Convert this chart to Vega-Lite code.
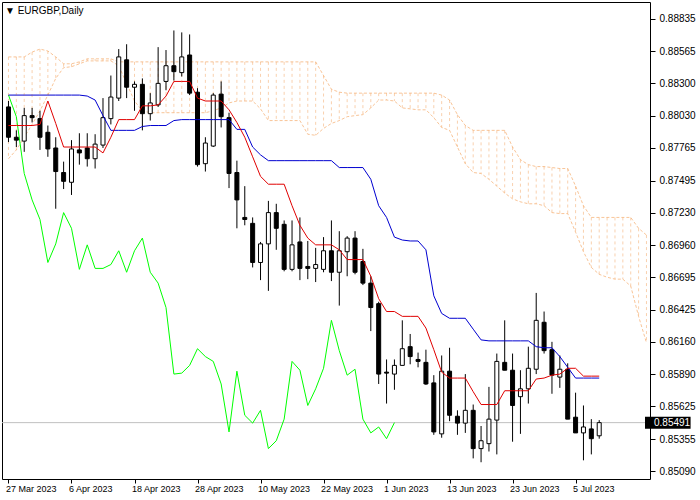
{
  "$schema": "https://vega.github.io/schema/vega-lite/v6.json",
  "width": 648,
  "height": 477,
  "autosize": {"type": "none"},
  "padding": {"left": 2, "top": 2, "right": 50, "bottom": 21},
  "background": "white",
  "config": {
    "view": {"stroke": "black", "strokeWidth": 1},
    "font": "Liberation Sans",
    "axis": {"labelOverlap": false, "labelFlush": false, "labelBound": false}
  },
  "title": {"text": "▼ EURGBP,Daily", "anchor": "start", "frame": "group", "orient": "top", "offset": -14, "dx": 3, "font": "Liberation Sans", "fontSize": 10, "fontWeight": "normal", "color": "black"},
  "datasets": {
    "bars": [
      {"i":0,"date":"2023-03-27","open":0.88105,"high":0.88154,"low":0.87814,"close":0.87854},
      {"i":1,"date":"2023-03-28","open":0.87854,"high":0.87911,"low":0.87773,"close":0.87830},
      {"i":2,"date":"2023-03-29","open":0.87822,"high":0.88097,"low":0.87733,"close":0.88033},
      {"i":3,"date":"2023-03-30","open":0.88033,"high":0.88097,"low":0.87976,"close":0.88016},
      {"i":4,"date":"2023-03-31","open":0.88008,"high":0.88073,"low":0.87749,"close":0.87854},
      {"i":5,"date":"2023-04-03","open":0.87895,"high":0.87951,"low":0.87692,"close":0.87757},
      {"i":6,"date":"2023-04-04","open":0.87765,"high":0.87854,"low":0.87262,"close":0.87570},
      {"i":7,"date":"2023-04-05","open":0.87562,"high":0.87652,"low":0.87425,"close":0.87489},
      {"i":8,"date":"2023-04-06","open":0.87481,"high":0.87830,"low":0.87376,"close":0.87757},
      {"i":9,"date":"2023-04-07","open":0.87749,"high":0.87887,"low":0.87627,"close":0.87724},
      {"i":10,"date":"2023-04-10","open":0.87765,"high":0.87887,"low":0.87611,"close":0.87676},
      {"i":11,"date":"2023-04-11","open":0.87676,"high":0.87879,"low":0.87595,"close":0.87797},
      {"i":12,"date":"2023-04-12","open":0.87789,"high":0.88178,"low":0.87765,"close":0.88016},
      {"i":13,"date":"2023-04-13","open":0.88008,"high":0.88365,"low":0.87960,"close":0.88187},
      {"i":14,"date":"2023-04-14","open":0.88178,"high":0.88584,"low":0.88154,"close":0.88519},
      {"i":15,"date":"2023-04-17","open":0.88495,"high":0.88624,"low":0.88178,"close":0.88268},
      {"i":16,"date":"2023-04-18","open":0.88268,"high":0.88316,"low":0.88073,"close":0.88292},
      {"i":17,"date":"2023-04-19","open":0.88292,"high":0.88341,"low":0.87911,"close":0.88049},
      {"i":18,"date":"2023-04-20","open":0.88049,"high":0.88219,"low":0.87992,"close":0.88138},
      {"i":19,"date":"2023-04-21","open":0.88122,"high":0.88600,"low":0.88105,"close":0.88300},
      {"i":20,"date":"2023-04-24","open":0.88316,"high":0.88576,"low":0.88243,"close":0.88446},
      {"i":21,"date":"2023-04-25","open":0.88446,"high":0.88738,"low":0.88324,"close":0.88397},
      {"i":22,"date":"2023-04-26","open":0.88389,"high":0.88722,"low":0.88357,"close":0.88519},
      {"i":23,"date":"2023-04-27","open":0.88535,"high":0.88705,"low":0.88203,"close":0.88219},
      {"i":24,"date":"2023-04-28","open":0.88227,"high":0.88260,"low":0.87611,"close":0.87627},
      {"i":25,"date":"2023-05-01","open":0.87635,"high":0.87854,"low":0.87570,"close":0.87806},
      {"i":26,"date":"2023-05-02","open":0.87781,"high":0.88219,"low":0.87773,"close":0.88203},
      {"i":27,"date":"2023-05-03","open":0.88211,"high":0.88316,"low":0.87935,"close":0.88024},
      {"i":28,"date":"2023-05-04","open":0.88016,"high":0.88057,"low":0.87433,"close":0.87554},
      {"i":29,"date":"2023-05-05","open":0.87562,"high":0.87660,"low":0.87100,"close":0.87335},
      {"i":30,"date":"2023-05-08","open":0.87190,"high":0.87449,"low":0.87125,"close":0.87173},
      {"i":31,"date":"2023-05-09","open":0.87141,"high":0.87190,"low":0.86776,"close":0.86817},
      {"i":32,"date":"2023-05-10","open":0.86817,"high":0.86987,"low":0.86671,"close":0.86971},
      {"i":33,"date":"2023-05-11","open":0.86971,"high":0.87327,"low":0.86582,"close":0.87230},
      {"i":34,"date":"2023-05-12","open":0.87230,"high":0.87303,"low":0.86922,"close":0.87100},
      {"i":35,"date":"2023-05-15","open":0.87133,"high":0.87165,"low":0.86744,"close":0.86760},
      {"i":36,"date":"2023-05-16","open":0.86760,"high":0.87165,"low":0.86744,"close":0.86963},
      {"i":37,"date":"2023-05-17","open":0.86987,"high":0.87190,"low":0.86671,"close":0.86768},
      {"i":38,"date":"2023-05-18","open":0.86784,"high":0.86995,"low":0.86679,"close":0.86768},
      {"i":39,"date":"2023-05-19","open":0.86768,"high":0.86938,"low":0.86655,"close":0.86800},
      {"i":40,"date":"2023-05-22","open":0.86760,"high":0.87027,"low":0.86736,"close":0.86914},
      {"i":41,"date":"2023-05-23","open":0.86914,"high":0.87165,"low":0.86663,"close":0.86736},
      {"i":42,"date":"2023-05-24","open":0.86736,"high":0.87076,"low":0.86460,"close":0.86914},
      {"i":43,"date":"2023-05-25","open":0.86906,"high":0.87035,"low":0.86703,"close":0.87019},
      {"i":44,"date":"2023-05-26","open":0.87019,"high":0.87076,"low":0.86719,"close":0.86736},
      {"i":45,"date":"2023-05-29","open":0.86825,"high":0.86930,"low":0.86630,"close":0.86646},
      {"i":46,"date":"2023-05-30","open":0.86646,"high":0.86703,"low":0.86249,"close":0.86444},
      {"i":47,"date":"2023-05-31","open":0.86476,"high":0.86492,"low":0.85811,"close":0.85893},
      {"i":48,"date":"2023-06-01","open":0.85909,"high":0.86014,"low":0.85649,"close":0.85901},
      {"i":49,"date":"2023-06-02","open":0.85893,"high":0.86014,"low":0.85763,"close":0.85965},
      {"i":50,"date":"2023-06-05","open":0.85965,"high":0.86338,"low":0.85965,"close":0.86103},
      {"i":51,"date":"2023-06-06","open":0.86120,"high":0.86225,"low":0.85974,"close":0.86038},
      {"i":52,"date":"2023-06-07","open":0.86014,"high":0.86071,"low":0.85949,"close":0.85998},
      {"i":53,"date":"2023-06-08","open":0.85990,"high":0.86095,"low":0.85803,"close":0.85811},
      {"i":54,"date":"2023-06-09","open":0.85820,"high":0.85884,"low":0.85390,"close":0.85414},
      {"i":55,"date":"2023-06-12","open":0.85398,"high":0.86047,"low":0.85366,"close":0.85917},
      {"i":56,"date":"2023-06-13","open":0.85917,"high":0.86111,"low":0.85503,"close":0.85552},
      {"i":57,"date":"2023-06-14","open":0.85544,"high":0.85593,"low":0.85390,"close":0.85487},
      {"i":58,"date":"2023-06-15","open":0.85487,"high":0.85893,"low":0.85406,"close":0.85593},
      {"i":59,"date":"2023-06-16","open":0.85593,"high":0.85641,"low":0.85195,"close":0.85276},
      {"i":60,"date":"2023-06-19","open":0.85276,"high":0.85463,"low":0.85163,"close":0.85341},
      {"i":61,"date":"2023-06-20","open":0.85317,"high":0.85787,"low":0.85252,"close":0.85520},
      {"i":62,"date":"2023-06-21","open":0.85512,"high":0.86063,"low":0.85228,"close":0.85998},
      {"i":63,"date":"2023-06-22","open":0.85990,"high":0.86338,"low":0.85925,"close":0.85925},
      {"i":64,"date":"2023-06-23","open":0.85925,"high":0.86063,"low":0.85333,"close":0.85633},
      {"i":65,"date":"2023-06-26","open":0.85706,"high":0.85925,"low":0.85398,"close":0.85771},
      {"i":66,"date":"2023-06-27","open":0.85771,"high":0.86120,"low":0.85649,"close":0.85941},
      {"i":67,"date":"2023-06-28","open":0.85933,"high":0.86565,"low":0.85893,"close":0.86338},
      {"i":68,"date":"2023-06-29","open":0.86322,"high":0.86411,"low":0.86063,"close":0.86087},
      {"i":69,"date":"2023-06-30","open":0.86095,"high":0.86160,"low":0.85730,"close":0.85884},
      {"i":70,"date":"2023-07-03","open":0.85868,"high":0.86047,"low":0.85779,"close":0.85933},
      {"i":71,"date":"2023-07-04","open":0.85933,"high":0.85982,"low":0.85520,"close":0.85520},
      {"i":72,"date":"2023-07-05","open":0.85536,"high":0.85739,"low":0.85406,"close":0.85406},
      {"i":73,"date":"2023-07-06","open":0.85406,"high":0.85633,"low":0.85179,"close":0.85455},
      {"i":74,"date":"2023-07-07","open":0.85439,"high":0.85520,"low":0.85228,"close":0.85358},
      {"i":75,"date":"2023-07-10","open":0.85382,"high":0.85512,"low":0.85358,"close":0.85491}
    ],
    "lines": [
      {"i":0,"tenkan":0.87951,"kijun":0.88203,"chikou":0.88203},
      {"i":1,"tenkan":0.87951,"kijun":0.88203,"chikou":0.88024},
      {"i":2,"tenkan":0.87951,"kijun":0.88203,"chikou":0.87554},
      {"i":3,"tenkan":0.87951,"kijun":0.88203,"chikou":0.87335},
      {"i":4,"tenkan":0.87960,"kijun":0.88203,"chikou":0.87173},
      {"i":5,"tenkan":0.88154,"kijun":0.88203,"chikou":0.86817},
      {"i":6,"tenkan":0.87968,"kijun":0.88203,"chikou":0.86971},
      {"i":7,"tenkan":0.87773,"kijun":0.88203,"chikou":0.87230},
      {"i":8,"tenkan":0.87773,"kijun":0.88203,"chikou":0.87100},
      {"i":9,"tenkan":0.87773,"kijun":0.88203,"chikou":0.86760},
      {"i":10,"tenkan":0.87773,"kijun":0.88195,"chikou":0.86963},
      {"i":11,"tenkan":0.87773,"kijun":0.88162,"chikou":0.86768},
      {"i":12,"tenkan":0.87724,"kijun":0.88033,"chikou":0.86768},
      {"i":13,"tenkan":0.87854,"kijun":0.87911,"chikou":0.86800},
      {"i":14,"tenkan":0.88000,"kijun":0.87911,"chikou":0.86914},
      {"i":15,"tenkan":0.88000,"kijun":0.87911,"chikou":0.86736},
      {"i":16,"tenkan":0.88000,"kijun":0.87911,"chikou":0.86914},
      {"i":17,"tenkan":0.88114,"kijun":0.87943,"chikou":0.87019},
      {"i":18,"tenkan":0.88114,"kijun":0.87951,"chikou":0.86736},
      {"i":19,"tenkan":0.88122,"kijun":0.87951,"chikou":0.86646},
      {"i":20,"tenkan":0.88195,"kijun":0.87951,"chikou":0.86444},
      {"i":21,"tenkan":0.88316,"kijun":0.87992,"chikou":0.85893},
      {"i":22,"tenkan":0.88316,"kijun":0.88000,"chikou":0.85901},
      {"i":23,"tenkan":0.88316,"kijun":0.88000,"chikou":0.85965},
      {"i":24,"tenkan":0.88178,"kijun":0.88000,"chikou":0.86103},
      {"i":25,"tenkan":0.88154,"kijun":0.88000,"chikou":0.86038},
      {"i":26,"tenkan":0.88154,"kijun":0.88000,"chikou":0.85998},
      {"i":27,"tenkan":0.88154,"kijun":0.88000,"chikou":0.85811},
      {"i":28,"tenkan":0.88081,"kijun":0.88000,"chikou":0.85414},
      {"i":29,"tenkan":0.87976,"kijun":0.87919,"chikou":0.85917},
      {"i":30,"tenkan":0.87854,"kijun":0.87919,"chikou":0.85552},
      {"i":31,"tenkan":0.87692,"kijun":0.87773,"chikou":0.85487},
      {"i":32,"tenkan":0.87530,"kijun":0.87708,"chikou":0.85593},
      {"i":33,"tenkan":0.87465,"kijun":0.87660,"chikou":0.85276},
      {"i":34,"tenkan":0.87465,"kijun":0.87660,"chikou":0.85341},
      {"i":35,"tenkan":0.87465,"kijun":0.87660,"chikou":0.85520},
      {"i":36,"tenkan":0.87287,"kijun":0.87660,"chikou":0.85998},
      {"i":37,"tenkan":0.87125,"kijun":0.87660,"chikou":0.85925},
      {"i":38,"tenkan":0.87019,"kijun":0.87660,"chikou":0.85633},
      {"i":39,"tenkan":0.86963,"kijun":0.87660,"chikou":0.85771},
      {"i":40,"tenkan":0.86963,"kijun":0.87660,"chikou":0.85941},
      {"i":41,"tenkan":0.86963,"kijun":0.87660,"chikou":0.86338},
      {"i":42,"tenkan":0.86922,"kijun":0.87603,"chikou":0.86087},
      {"i":43,"tenkan":0.86841,"kijun":0.87603,"chikou":0.85884},
      {"i":44,"tenkan":0.86841,"kijun":0.87603,"chikou":0.85933},
      {"i":45,"tenkan":0.86841,"kijun":0.87603,"chikou":0.85520},
      {"i":46,"tenkan":0.86703,"kijun":0.87506,"chikou":0.85406},
      {"i":47,"tenkan":0.86517,"kijun":0.87287,"chikou":0.85455},
      {"i":48,"tenkan":0.86411,"kijun":0.87190,"chikou":0.85358},
      {"i":49,"tenkan":0.86411,"kijun":0.87027,"chikou":0.85491},
      {"i":50,"tenkan":0.86371,"kijun":0.87003},
      {"i":51,"tenkan":0.86371,"kijun":0.86995},
      {"i":52,"tenkan":0.86371,"kijun":0.86995},
      {"i":53,"tenkan":0.86274,"kijun":0.86922},
      {"i":54,"tenkan":0.86095,"kijun":0.86541},
      {"i":55,"tenkan":0.85909,"kijun":0.86395},
      {"i":56,"tenkan":0.85860,"kijun":0.86355},
      {"i":57,"tenkan":0.85860,"kijun":0.86355},
      {"i":58,"tenkan":0.85860,"kijun":0.86355},
      {"i":59,"tenkan":0.85747,"kijun":0.86265},
      {"i":60,"tenkan":0.85641,"kijun":0.86176},
      {"i":61,"tenkan":0.85641,"kijun":0.86168},
      {"i":62,"tenkan":0.85641,"kijun":0.86168},
      {"i":63,"tenkan":0.85755,"kijun":0.86168},
      {"i":64,"tenkan":0.85755,"kijun":0.86168},
      {"i":65,"tenkan":0.85755,"kijun":0.86168},
      {"i":66,"tenkan":0.85755,"kijun":0.86168},
      {"i":67,"tenkan":0.85852,"kijun":0.86120},
      {"i":68,"tenkan":0.85860,"kijun":0.86111},
      {"i":69,"tenkan":0.85884,"kijun":0.86111},
      {"i":70,"tenkan":0.85893,"kijun":0.86038},
      {"i":71,"tenkan":0.85941,"kijun":0.85949},
      {"i":72,"tenkan":0.85941,"kijun":0.85860},
      {"i":73,"tenkan":0.85876,"kijun":0.85860},
      {"i":74,"tenkan":0.85876,"kijun":0.85860},
      {"i":75,"tenkan":0.85876,"kijun":0.85860}
    ],
    "cloud": [
      {"i":0,"spanA":0.88519,"spanB":0.87676},
      {"i":1,"spanA":0.88519,"spanB":0.87749},
      {"i":2,"spanA":0.88519,"spanB":0.87854},
      {"i":3,"spanA":0.88559,"spanB":0.87960},
      {"i":4,"spanA":0.88584,"spanB":0.88073},
      {"i":5,"spanA":0.88568,"spanB":0.88203},
      {"i":6,"spanA":0.88519,"spanB":0.88341},
      {"i":7,"spanA":0.88462,"spanB":0.88430},
      {"i":8,"spanA":0.88462,"spanB":0.88438},
      {"i":9,"spanA":0.88478,"spanB":0.88462},
      {"i":10,"spanA":0.88503,"spanB":0.88486},
      {"i":11,"spanA":0.88503,"spanB":0.88486},
      {"i":12,"spanA":0.88503,"spanB":0.88486},
      {"i":13,"spanA":0.88503,"spanB":0.88486},
      {"i":14,"spanA":0.88478,"spanB":0.88446},
      {"i":15,"spanA":0.88478,"spanB":0.88300},
      {"i":16,"spanA":0.88478,"spanB":0.88154},
      {"i":17,"spanA":0.88478,"spanB":0.88073},
      {"i":18,"spanA":0.88478,"spanB":0.88057},
      {"i":19,"spanA":0.88478,"spanB":0.88057},
      {"i":20,"spanA":0.88478,"spanB":0.88057},
      {"i":21,"spanA":0.88478,"spanB":0.88057},
      {"i":22,"spanA":0.88478,"spanB":0.88057},
      {"i":23,"spanA":0.88478,"spanB":0.88057},
      {"i":24,"spanA":0.88478,"spanB":0.88057},
      {"i":25,"spanA":0.88478,"spanB":0.88057},
      {"i":26,"spanA":0.88478,"spanB":0.88073},
      {"i":27,"spanA":0.88478,"spanB":0.88097},
      {"i":28,"spanA":0.88478,"spanB":0.88138},
      {"i":29,"spanA":0.88478,"spanB":0.88154},
      {"i":30,"spanA":0.88478,"spanB":0.88154},
      {"i":31,"spanA":0.88478,"spanB":0.88154},
      {"i":32,"spanA":0.88478,"spanB":0.88089},
      {"i":33,"spanA":0.88478,"spanB":0.87992},
      {"i":34,"spanA":0.88478,"spanB":0.87992},
      {"i":35,"spanA":0.88478,"spanB":0.87992},
      {"i":36,"spanA":0.88478,"spanB":0.87992},
      {"i":37,"spanA":0.88478,"spanB":0.87992},
      {"i":38,"spanA":0.88478,"spanB":0.87879},
      {"i":39,"spanA":0.88478,"spanB":0.87870},
      {"i":40,"spanA":0.88365,"spanB":0.87927},
      {"i":41,"spanA":0.88251,"spanB":0.87968},
      {"i":42,"spanA":0.88227,"spanB":0.87992},
      {"i":43,"spanA":0.88219,"spanB":0.88024},
      {"i":44,"spanA":0.88219,"spanB":0.88033},
      {"i":45,"spanA":0.88219,"spanB":0.88041},
      {"i":46,"spanA":0.88219,"spanB":0.88097},
      {"i":47,"spanA":0.88219,"spanB":0.88162},
      {"i":48,"spanA":0.88219,"spanB":0.88162},
      {"i":49,"spanA":0.88219,"spanB":0.88154},
      {"i":50,"spanA":0.88219,"spanB":0.88097},
      {"i":51,"spanA":0.88219,"spanB":0.88089},
      {"i":52,"spanA":0.88219,"spanB":0.88081},
      {"i":53,"spanA":0.88219,"spanB":0.88081},
      {"i":54,"spanA":0.88219,"spanB":0.88016},
      {"i":55,"spanA":0.88203,"spanB":0.87935},
      {"i":56,"spanA":0.88162,"spanB":0.87911},
      {"i":57,"spanA":0.88041,"spanB":0.87773},
      {"i":58,"spanA":0.87951,"spanB":0.87635},
      {"i":59,"spanA":0.87911,"spanB":0.87562},
      {"i":60,"spanA":0.87911,"spanB":0.87554},
      {"i":61,"spanA":0.87911,"spanB":0.87506},
      {"i":62,"spanA":0.87911,"spanB":0.87449},
      {"i":63,"spanA":0.87911,"spanB":0.87392},
      {"i":64,"spanA":0.87773,"spanB":0.87344},
      {"i":65,"spanA":0.87668,"spanB":0.87319},
      {"i":66,"spanA":0.87627,"spanB":0.87303},
      {"i":67,"spanA":0.87611,"spanB":0.87303},
      {"i":68,"spanA":0.87611,"spanB":0.87287},
      {"i":69,"spanA":0.87603,"spanB":0.87230},
      {"i":70,"spanA":0.87595,"spanB":0.87222},
      {"i":71,"spanA":0.87595,"spanB":0.87222},
      {"i":72,"spanA":0.87449,"spanB":0.87068},
      {"i":73,"spanA":0.87287,"spanB":0.86906},
      {"i":74,"spanA":0.87190,"spanB":0.86776},
      {"i":75,"spanA":0.87190,"spanB":0.86719},
      {"i":76,"spanA":0.87190,"spanB":0.86695},
      {"i":77,"spanA":0.87190,"spanB":0.86679},
      {"i":78,"spanA":0.87190,"spanB":0.86679},
      {"i":79,"spanA":0.87190,"spanB":0.86622},
      {"i":80,"spanA":0.87100,"spanB":0.86371},
      {"i":81,"spanA":0.87044,"spanB":0.86152}
    ],
    "quote": [{"price":0.85491,"label":"0.85491"}]
  },
  "layer": [
    {
      "data": {"name": "cloud"},
      "mark": {"type": "rule", "color": "#F4A460", "strokeWidth": 1, "strokeDash": [3, 3], "opacity": 0.5, "clip": true},
      "encoding": {
        "x": {
          "field": "i", "type": "quantitative", "title": null,
          "scale": {"domain": [-0.1875, 80.8125], "zero": false, "nice": false},
          "axis": {
            "values": [0, 8, 16, 24, 32, 40, 48, 56, 64, 72],
            "tickCount": 40,
            "labelExpr": "['27 Mar 2023','6 Apr 2023','18 Apr 2023','28 Apr 2023','10 May 2023','22 May 2023','1 Jun 2023','13 Jun 2023','23 Jun 2023','5 Jul 2023'][round(datum.value / 8)]",
            "title": null, "grid": false, "domain": false,
            "tickColor": "black", "tickSize": 4, "tickWidth": 1,
            "labelAlign": "left", "labelBaseline": "top", "labelPadding": 1, "labelOffset": -3,
            "labelFont": "Liberation Sans", "labelFontSize": 9, "labelColor": "black",
            "labelOverlap": false, "labelFlush": false
          }
        },
        "y": {
          "field": "spanA", "type": "quantitative", "title": null,
          "scale": {"domain": [0.850657, 0.889323], "zero": false, "nice": false},
          "axis": {
            "orient": "right",
            "values": [0.88835, 0.88565, 0.883, 0.8803, 0.87765, 0.87495, 0.8723, 0.8696, 0.86695, 0.86425, 0.8616, 0.8589, 0.85625, 0.85355, 0.8509],
            "tickCount": 40,
            "format": ".5f", "title": null, "grid": false, "domain": false,
            "tickColor": "black", "tickSize": 5, "tickWidth": 1,
            "labelPadding": 4, "labelFont": "Liberation Sans", "labelFontSize": 10, "labelColor": "black",
            "labelOverlap": false, "labelFlush": false
          }
        },
        "y2": {"field": "spanB"}
      }
    },
    {
      "data": {"name": "cloud"},
      "mark": {"type": "line", "color": "#F4A460", "strokeWidth": 1, "strokeDash": [3, 2], "opacity": 0.65, "clip": true},
      "encoding": {
        "x": {"field": "i", "type": "quantitative", "title": null},
        "y": {"field": "spanA", "type": "quantitative", "title": null}
      }
    },
    {
      "data": {"name": "cloud"},
      "mark": {"type": "line", "color": "#F4A460", "strokeWidth": 1, "strokeDash": [3, 2], "opacity": 0.65, "clip": true},
      "encoding": {
        "x": {"field": "i", "type": "quantitative", "title": null},
        "y": {"field": "spanB", "type": "quantitative", "title": null}
      }
    },
    {
      "data": {"name": "quote"},
      "mark": {"type": "rule", "color": "#C0C0C0", "strokeWidth": 1, "clip": true},
      "encoding": {
        "y": {"field": "price", "type": "quantitative", "title": null}
      }
    },
    {
      "data": {"name": "bars"},
      "mark": {"type": "rule", "color": "black", "strokeWidth": 1, "clip": true},
      "encoding": {
        "x": {"field": "i", "type": "quantitative", "title": null},
        "y": {"field": "low", "type": "quantitative", "title": null},
        "y2": {"field": "high"}
      }
    },
    {
      "data": {"name": "bars"},
      "mark": {"type": "bar", "width": 4, "stroke": "black", "strokeWidth": 1, "clip": true},
      "encoding": {
        "x": {"field": "i", "type": "quantitative", "title": null},
        "y": {"field": "open", "type": "quantitative", "title": null},
        "y2": {"field": "close"},
        "fill": {"condition": {"test": "datum.close > datum.open", "value": "white"}, "value": "black"}
      }
    },
    {
      "data": {"name": "lines"},
      "mark": {"type": "line", "color": "#00FF00", "strokeWidth": 1, "clip": true},
      "encoding": {
        "x": {"field": "i", "type": "quantitative", "title": null},
        "y": {"field": "chikou", "type": "quantitative", "title": null}
      }
    },
    {
      "data": {"name": "lines"},
      "mark": {"type": "line", "color": "#0000D0", "strokeWidth": 1, "clip": true},
      "encoding": {
        "x": {"field": "i", "type": "quantitative", "title": null},
        "y": {"field": "kijun", "type": "quantitative", "title": null}
      }
    },
    {
      "data": {"name": "lines"},
      "mark": {"type": "line", "color": "#E00000", "strokeWidth": 1, "clip": true},
      "encoding": {
        "x": {"field": "i", "type": "quantitative", "title": null},
        "y": {"field": "tenkan", "type": "quantitative", "title": null}
      }
    },
    {
      "data": {"name": "quote"},
      "mark": {"type": "bar", "color": "black", "height": 12, "clip": false},
      "encoding": {
        "x": {"datum": 80.8125, "type": "quantitative"},
        "x2": {"datum": 86.6},
        "y": {"field": "price", "type": "quantitative", "title": null}
      }
    },
    {
      "data": {"name": "quote"},
      "mark": {"type": "text", "color": "white", "align": "left", "baseline": "middle", "dx": 9, "font": "Liberation Sans", "fontSize": 10, "clip": false},
      "encoding": {
        "x": {"datum": 80.8125, "type": "quantitative"},
        "y": {"field": "price", "type": "quantitative", "title": null},
        "text": {"field": "label"}
      }
    }
  ]
}
